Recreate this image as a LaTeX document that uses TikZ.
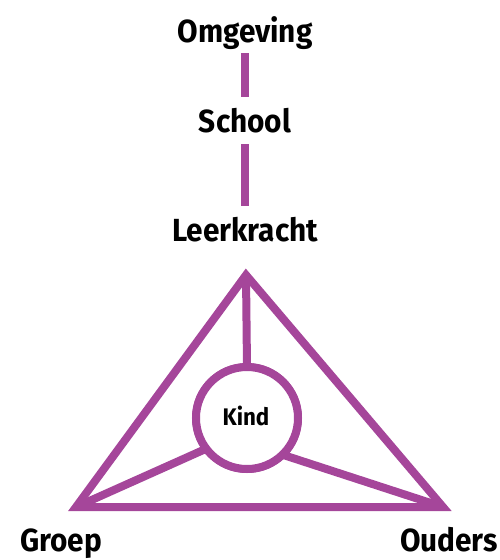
\documentclass[tikz,border=0pt]{standalone}
\usepackage{fontspec}
\setmainfont{Fira Sans}[UprightFont={* Bold}, FakeStretch=0.93]
\definecolor{paars}{RGB}{165,70,154}
\begin{document}
\begin{tikzpicture}[x=1pt,y=-1pt,
  lbl/.style={font=\fontsize{32}{36}\selectfont, anchor=base, inner sep=0pt},
  kindlbl/.style={font=\fontsize{24}{28}\selectfont, anchor=base, inner sep=0pt},
  link/.style={draw=paars, line width=8pt},
  frame/.style={draw=paars, line width=8pt, line join=miter}]
\useasboundingbox (0,0) rectangle (500,560);
% labels
\node[lbl] (omg) at (245,42) {Omgeving};
\node[lbl] (school) at (245,132) {School};
\node[lbl] (leer) at (245,241) {Leerkracht};
\node[lbl] (groep) at (61,551) {Groep};
\node[lbl] (ouders) at (449,551) {Ouders};
% vertical links
\draw[link, shorten <=4pt, shorten >=11pt] (omg.south) -- (school.north);
\draw[link, shorten <=12pt, shorten >=11pt] (school.base) -- (leer.north);
% triangle
\coordinate (A) at (246,275);
\coordinate (B) at (76,507);
\coordinate (C) at (443,507);
\node[circle, draw=paars, fill=white, line width=8pt, minimum size=102pt, inner sep=0pt, outer sep=0pt] (kind) at (247,418) {};
\draw[link] (A) -- (kind.90);
\draw[link] (B) -- (kind.217);
\draw[link] (C) -- (kind.314);
\draw[frame] (A) -- (B) -- (C) -- cycle;
\node[circle, draw=paars, fill=white, line width=8pt, minimum size=102pt, inner sep=0pt] at (kind.center) {};
\node[kindlbl] (kindtxt) at (246,425) {Kind};
\end{tikzpicture}
\end{document}
